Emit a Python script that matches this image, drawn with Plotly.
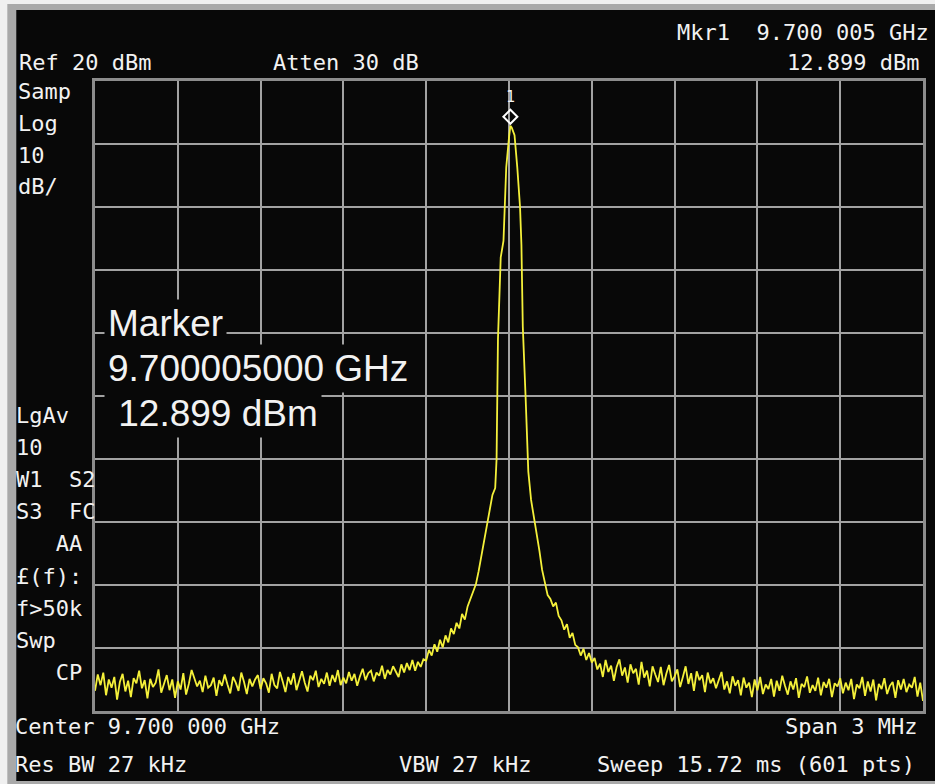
import numpy as np
import plotly.graph_objects as go

center_ghz = 9.700000
span_mhz = 3.0
ref_dbm = 20.0
db_per_div = 10.0

marker_offset_mhz = 0.005
marker_level_dbm = 12.899

# left noise floor, offsets -1.50 .. -0.31 MHz (10 kHz bins)
left_noise = [
    -76.8, -74.2, -75.9, -73.9, -77.5, -75.0, -76.3, -74.6, -78.2, -75.4,
    -74.1, -76.9, -75.2, -77.8, -74.8, -75.6, -73.6, -76.4, -75.1, -78.0,
    -74.9, -76.2, -75.5, -73.4, -77.1, -75.8, -74.3, -76.7, -75.0, -77.9,
    -75.3, -76.6, -74.0, -77.4, -75.7, -73.5, -74.8, -76.1, -75.2, -77.0,
    -74.4, -76.3, -75.9, -74.7, -77.6, -75.1, -76.0, -74.2, -75.8, -77.2,
    -74.6, -75.5, -76.8, -73.9, -75.4, -77.3, -74.9, -76.1, -75.0, -74.3,
    -76.5, -74.8, -75.6, -77.1, -74.1, -75.9, -76.4, -73.8, -75.3, -77.0,
    -74.6, -75.8, -74.0, -76.7, -75.2, -73.7, -75.5, -76.9, -74.4, -75.1,
    -73.6, -76.2, -74.9, -75.7, -73.9, -76.0, -74.3, -75.4, -73.5, -75.9,
    -74.7, -75.6, -73.8, -75.2, -74.1, -76.0, -74.5, -73.3, -75.1, -74.0,
    -73.6, -75.3, -73.9, -74.4, -72.8, -74.9, -73.5, -74.2, -72.9, -73.8,
    -74.6, -72.6, -73.9, -72.4, -73.5, -71.9, -73.6, -72.2, -73.0, -71.8,
]

# carrier region, explicit offsets (MHz) and levels (dBm)
peak_offsets = [
    -0.30, -0.29, -0.28, -0.27, -0.26, -0.25, -0.24, -0.23, -0.22, -0.21,
    -0.20, -0.19, -0.18, -0.17, -0.16, -0.15, -0.14, -0.13, -0.12, -0.11,
    -0.10, -0.09, -0.08, -0.07, -0.06, -0.05, -0.045, -0.04, -0.03, -0.02,
    -0.01, 0.00, 0.005, 0.01, 0.02, 0.03, 0.04, 0.045, 0.05, 0.06,
    0.07, 0.08, 0.09, 0.10, 0.11, 0.12, 0.13, 0.14, 0.15, 0.16,
    0.17, 0.18, 0.19, 0.20, 0.21, 0.22, 0.23, 0.24, 0.25, 0.26,
    0.27, 0.28, 0.29, 0.30,
]
peak_levels = [
    -72.0, -70.3, -71.2, -69.4, -70.6, -68.7, -69.9, -68.0, -69.1, -66.9,
    -67.8, -66.0, -66.9, -64.6, -65.5, -63.4, -62.3, -61.0, -59.9, -57.8,
    -55.5, -53.0, -50.8, -48.2, -45.7, -44.6, -40.0, -21.0, -8.0, -5.4,
    6.3, 11.0, 12.899, 12.6, 11.4, 6.3, 0.0, -6.0, -19.0, -30.0,
    -42.0, -46.5, -49.0, -51.6, -54.5, -57.6, -59.9, -61.6, -62.2, -63.4,
    -62.8, -64.9, -65.6, -67.1, -66.2, -68.4, -67.6, -69.5, -69.9, -71.2,
    -70.1, -71.9, -70.8, -72.3,
]

# right noise floor, offsets 0.31 .. 1.50 MHz (10 kHz bins)
right_noise = [
    -71.6, -73.4, -72.5, -74.6, -71.9, -73.8, -72.8, -75.2, -73.0, -71.8,
    -74.4, -73.1, -75.5, -72.6, -74.0, -73.3, -75.8, -72.2, -74.7, -73.6,
    -76.1, -72.9, -74.2, -75.4, -73.0, -75.9, -74.1, -72.7, -75.3, -74.5,
    -73.4, -76.2, -74.6, -72.9, -75.7, -74.0, -76.8, -73.7, -75.1, -74.3,
    -77.0, -73.9, -75.6, -74.8, -76.4, -75.0, -73.8, -76.6, -75.3, -77.2,
    -74.5, -76.0, -75.1, -77.5, -74.7, -76.3, -75.5, -77.8, -75.0, -76.7,
    -74.6, -77.3, -75.8, -76.5, -74.9, -77.7, -75.2, -76.8, -74.4, -76.0,
    -77.4, -75.3, -76.6, -74.8, -77.9, -75.7, -76.2, -74.5, -77.1, -75.9,
    -76.8, -74.7, -77.5, -75.4, -76.3, -74.9, -77.8, -75.6, -76.1, -74.8,
    -77.2, -75.5, -76.7, -74.9, -78.1, -75.8, -76.4, -74.6, -77.6, -75.3,
    -76.9, -75.0, -78.3, -75.7, -76.5, -74.8, -77.3, -76.0, -75.4, -77.9,
    -75.1, -76.6, -74.9, -77.0, -75.8, -76.3, -74.6, -77.7, -75.5, -78.4,
]

bin_mhz = 0.01

header_texts = {
    "mkr": "Mkr1\u00a0\u00a09.700\u00a0005\u00a0GHz",
    "ref": "Ref\u00a020\u00a0dBm",
    "atten": "Atten\u00a030\u00a0dB",
    "mkr_level": "12.899\u00a0dBm",
}
left_labels_top = ["Samp", "Log", "10", "dB/"]
left_labels_mid = ["LgAv", "10", "W1\u00a0\u00a0S2", "S3\u00a0\u00a0FC",
                   "\u00a0\u00a0\u00a0AA", "£(f):", "f>50k", "Swp", "\u00a0\u00a0\u00a0CP"]
footer_texts = {
    "center": "Center\u00a09.700\u00a0000\u00a0GHz",
    "span": "Span\u00a03\u00a0MHz",
    "rbw": "Res\u00a0BW\u00a027\u00a0kHz",
    "vbw": "VBW\u00a027\u00a0kHz",
    "sweep": "Sweep\u00a015.72\u00a0ms\u00a0(601\u00a0pts)",
}
marker_box = ["Marker", "9.700005000\u00a0GHz", "\u00a012.899\u00a0dBm"]

# ---------------- build trace ----------------
half = span_mhz / 2
left_x = -half + bin_mhz * np.arange(len(left_noise))
right_x = 0.31 + bin_mhz * np.arange(len(right_noise))
x_all = np.concatenate([left_x, np.array(peak_offsets), right_x])
y_all = np.concatenate([np.array(left_noise), np.array(peak_levels), np.array(right_noise)])

W, H = 935, 784
L, R, T, B = 95, 926, 81, 711  # plot area in pixels

def px(x):
    return (x - L) / (R - L)

def py(y):
    return (B - y) / (B - T)

fig = go.Figure()
fig.add_trace(go.Scatter(
    x=x_all, y=y_all, mode="lines",
    line=dict(color="#f4f03a", width=1.8),
    hoverinfo="skip", showlegend=False,
))

grid = "#a2a2a2"
fig.update_xaxes(range=[-half, half], dtick=span_mhz / 10, tick0=-half,
                 showgrid=True, gridcolor=grid, gridwidth=2,
                 showticklabels=False, ticks="", zeroline=False,
                 showline=True, mirror=True, linecolor="#8c8c8c", linewidth=3)
fig.update_yaxes(range=[ref_dbm - 10 * db_per_div, ref_dbm], dtick=db_per_div,
                 tick0=ref_dbm, showgrid=True, gridcolor=grid, gridwidth=2,
                 showticklabels=False, ticks="", zeroline=False,
                 showline=True, mirror=True, linecolor="#8c8c8c", linewidth=3)

shapes = [
    dict(type="rect", xref="paper", yref="paper", layer="below",
         x0=px(7), x1=px(940), y0=py(790), y1=py(4),
         fillcolor="#a9a9a9", line=dict(width=0)),
    dict(type="rect", xref="paper", yref="paper", layer="below",
         x0=px(16), x1=px(940), y0=py(781), y1=py(10),
         fillcolor="#080808", line=dict(width=0)),
    # marker diamond drawn above the marked point
    dict(type="path", xref="x", yref="y", xsizemode="pixel", ysizemode="pixel",
         xanchor=marker_offset_mhz, yanchor=marker_level_dbm,
         path="M 0,2 L 7,9 L 0,16 L -7,9 Z",
         line=dict(color="white", width=2), fillcolor="rgba(0,0,0,0)"),
]

mono = "DejaVu Sans Mono"
white = "#f2f2f2"
ann = []

def txt(text, x, y, anchor="left", size=22, family=mono, bg=None):
    d = dict(text=text, xref="paper", yref="paper", x=px(x), y=py(y),
             xanchor=anchor, yanchor="middle", showarrow=False,
             font=dict(family=family, size=size, color=white))
    if bg:
        d.update(bgcolor=bg, borderpad=3)
    ann.append(d)

txt(header_texts["mkr"], 934, 32, "right")
txt(header_texts["ref"], 17, 62)
txt(header_texts["atten"], 272, 62)
txt(header_texts["mkr_level"], 924, 62, "right")
for i, t in enumerate(left_labels_top):
    txt(t, 16, 91 + 32 * i)
for i, t in enumerate(left_labels_mid):
    txt(t, 14, 415 + 32.2 * i)
txt(footer_texts["center"], 13, 726)
txt(footer_texts["span"], 922, 726, "right")
txt(footer_texts["rbw"], 13, 764)
txt(footer_texts["vbw"], 398, 764)
txt(footer_texts["sweep"], 920, 764, "right")

big = "Liberation Sans"
txt(marker_box[0], 104, 323, size=37, family=big, bg="#080808")
txt(marker_box[1], 104, 368, size=37, family=big, bg="#080808")
txt(marker_box[2], 104, 413, size=37, family=big, bg="#080808")

ann.append(dict(text="1", x=marker_offset_mhz, y=marker_level_dbm, xref="x", yref="y",
                yshift=29, showarrow=False,
                font=dict(family=mono, size=15, color=white)))

fig.update_layout(
    width=W, height=H,
    margin=dict(l=L, r=W - R, t=T, b=H - B, pad=0),
    paper_bgcolor="#f0f0f0", plot_bgcolor="#080808",
    shapes=shapes, annotations=ann, showlegend=False,
)

fig.write_html(
    "out.html",
    config={"displayModeBar": False},
    post_script="document.body.style.margin='0px';document.body.style.padding='0px';"
                "document.body.style.overflow='hidden';",
)
